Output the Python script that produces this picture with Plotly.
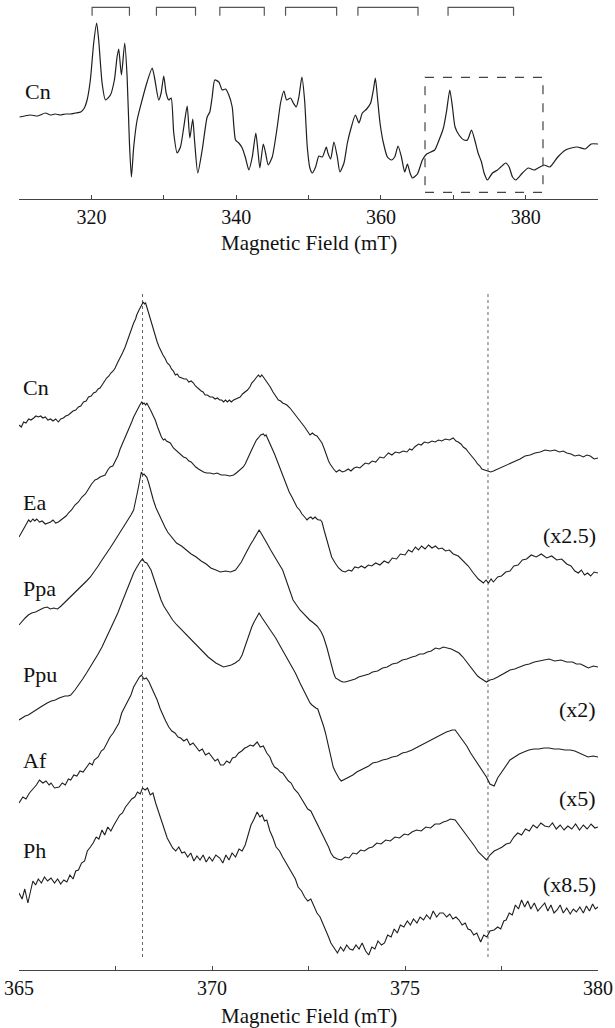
import plotly.graph_objects as go

# ---------------- data ----------------
# Top panel: full Cn spectrum, field (mT) vs. derivative intensity (a.u.)
TOP_CN = [
    (310.08, 0), (311.56, 2), (312.6, 1), (313.64, 4), (314.33, 2), (315.02, 3), (315.7, 2),
    (316.4, 3), (317.1, 3), (317.79, 4), (318.53, 5), (319.03, 9), (319.41, 17), (319.86, 37),
    (320.32, 74), (320.73, 94), (321.01, 77), (321.48, 34), (321.94, 17), (322.63, 22),
    (323.18, 37), (323.55, 60), (323.78, 68), (324.15, 42), (324.61, 74), (324.94, 40),
    (325.26, -26), (325.53, -60), (325.85, -30), (326.32, -3), (327.01, 17), (327.7, 35),
    (328.4, 49), (328.71, 40), (329.31, 17), (329.64, 24), (330.0, 41), (330.33, 24),
    (330.69, 17), (331.02, 19), (331.38, -16), (331.85, -36), (332.31, -30), (332.77, -10),
    (333.24, 11), (333.6, -21), (334.01, -2), (334.25, -23), (334.7, -56), (335.31, -33),
    (336.0, 0), (336.36, 5), (336.69, 20), (337.05, 37), (337.61, 35), (338.08, 27),
    (338.53, 28), (338.99, 22), (339.46, 10), (339.92, -23), (340.37, -26), (340.84, -31),
    (341.3, -41), (341.76, -53), (342.23, -40), (342.72, -16), (343.0, -33), (343.28, -51),
    (343.75, -27), (344.07, -36), (344.44, -48), (344.99, -40), (345.68, -10), (346.14, 14),
    (346.6, 26), (346.97, 17), (347.52, 19), (347.9, 14), (348.31, 10), (348.67, 20),
    (349.09, 40), (349.46, 17), (349.83, -30), (350.19, -51), (350.53, -56), (350.98, -50),
    (351.44, -39), (351.91, -40), (352.46, -30), (352.68, -36), (353.06, -42), (353.51, -25),
    (353.98, -40), (354.34, -55), (354.9, -46), (355.37, -26), (355.92, -10), (356.47, 2),
    (356.97, -6), (357.44, 4), (358.04, 8), (358.59, 14), (358.96, 27), (359.24, 39),
    (359.52, 20), (359.88, -6), (360.35, -26), (360.9, -40), (361.45, -43), (361.91, -40),
    (362.37, -29), (362.84, -40), (363.29, -55), (363.67, -47), (364.03, -56), (364.36, -61),
    (365.05, -57), (365.74, -43), (366.33, -37), (366.89, -35), (367.44, -33), (368.04, -23),
    (368.64, -11), (369.1, 7), (369.52, 27), (369.89, 10), (370.25, -10), (370.8, -18),
    (371.49, -23), (371.96, -23), (372.52, -13), (372.97, -23), (373.43, -36), (373.9, -45),
    (374.26, -56), (374.73, -63), (375.42, -56), (376.11, -53), (376.57, -50), (377.26, -46),
    (377.72, -50), (378.19, -60), (378.65, -63), (379.56, -56), (380.37, -51), (381.18, -53),
    (382.53, -48), (383.35, -50), (384.44, -40), (385.52, -33), (386.3, -31), (387.15, -30),
    (388.23, -32), (389.05, -27), (390.0, -27),
]

# Hyperfine brackets above the top spectrum (start, end field in mT)
BRACKETS = [(320.10, 325.26), (328.99, 334.39), (337.75, 343.89),
            (346.83, 353.89), (356.83, 365.13), (369.28, 378.33)]
# Region expanded in the lower panel (mT)
BOX_FIELD = (366.1, 382.4)
# Reference field positions marked by dotted lines (mT)
MARK_FIELDS = [368.2, 377.15]

# Lower panel: expanded spectra, field (mT) vs intensity (a.u., relative to start)
CN = [
    (365.00, 0), (365.06, -2), (365.12, 3), (365.18, 2), (365.25, 6), (365.31, 5), (365.38, 7),
    (365.44, 9), (365.50, 8), (365.56, 9), (365.62, 7), (365.68, 8), (365.75, 5), (365.82, 6),
    (365.88, 4), (365.95, 6), (366.02, 3), (366.08, 6), (366.15, 7), (366.21, 9), (366.28, 10),
    (366.34, 12), (366.40, 14), (366.47, 15), (366.54, 18), (366.60, 19), (366.67, 23),
    (366.74, 24), (366.80, 28), (366.87, 29), (366.93, 32), (366.99, 33), (367.05, 36),
    (367.10, 37), (367.15, 40), (367.21, 44), (367.27, 47), (367.33, 49), (367.38, 52),
    (367.44, 54), (367.49, 57), (367.55, 62), (367.62, 67), (367.68, 72), (367.75, 78),
    (367.80, 84), (367.86, 90), (367.92, 96), (367.97, 102), (368.02, 106), (368.05, 110),
    (368.11, 115), (368.17, 120), (368.22, 123), (368.25, 121), (368.28, 122), (368.35, 113),
    (368.40, 106), (368.44, 100), (368.49, 93), (368.53, 88), (368.58, 83), (368.63, 78),
    (368.68, 73), (368.73, 70), (368.78, 67), (368.84, 62), (368.90, 60), (368.95, 56),
    (369.00, 54), (369.05, 50), (369.10, 51), (369.15, 48), (369.22, 47), (369.28, 46),
    (369.34, 46), (369.40, 43), (369.46, 44), (369.52, 42), (369.57, 39), (369.62, 37),
    (369.67, 36), (369.72, 34), (369.77, 33), (369.82, 30), (369.88, 30), (369.95, 28),
    (370.02, 28), (370.08, 26), (370.14, 27), (370.20, 25), (370.25, 25), (370.30, 23),
    (370.35, 25), (370.40, 23), (370.45, 25), (370.50, 23), (370.56, 25), (370.62, 26),
    (370.68, 27), (370.73, 28), (370.79, 31), (370.85, 33), (370.92, 35), (370.98, 38),
    (371.03, 42), (371.08, 44), (371.14, 47), (371.20, 50), (371.25, 48), (371.29, 50),
    (371.33, 48), (371.39, 45), (371.45, 42), (371.51, 38), (371.58, 33), (371.65, 29),
    (371.72, 25), (371.78, 24), (371.83, 22), (371.89, 21), (371.94, 20), (372.02, 17),
    (372.10, 13), (372.19, 9), (372.28, 5), (372.34, 2), (372.40, -2), (372.47, -6),
    (372.54, -10), (372.60, -8), (372.66, -10), (372.72, -11), (372.78, -14), (372.85, -18),
    (372.91, -24), (372.97, -32), (373.02, -36), (373.06, -39), (373.11, -42), (373.15, -44),
    (373.22, -47), (373.30, -45), (373.38, -47), (373.45, -46), (373.53, -44), (373.60, -46),
    (373.68, -43), (373.75, -42), (373.83, -43), (373.90, -40), (373.97, -38), (374.06, -39),
    (374.15, -36), (374.24, -37), (374.35, -32), (374.45, -33), (374.57, -28), (374.66, -30),
    (374.75, -27), (374.85, -28), (374.95, -26), (375.05, -27), (375.12, -24), (375.18, -25),
    (375.25, -22), (375.35, -19), (375.42, -20), (375.50, -17), (375.60, -18), (375.70, -16),
    (375.78, -17), (375.87, -15), (375.95, -16), (376.05, -14), (376.15, -15), (376.25, -13),
    (376.32, -16), (376.38, -17), (376.45, -19), (376.51, -22), (376.58, -24), (376.64, -27),
    (376.71, -30), (376.77, -33), (376.83, -36), (376.88, -39), (376.94, -41), (376.99, -44),
    (377.07, -45), (377.15, -46), (377.22, -47), (377.29, -46), (377.40, -44), (377.50, -43),
    (377.61, -41), (377.72, -39), (377.85, -36), (377.98, -34), (378.11, -31), (378.24, -30),
    (378.37, -28), (378.50, -27), (378.63, -25), (378.76, -26), (378.88, -25), (379.00, -27),
    (379.10, -26), (379.19, -28), (379.30, -29), (379.40, -31), (379.51, -30), (379.62, -32),
    (379.71, -30), (379.80, -31), (379.90, -34), (380.00, -33),
]
EA = [
    (365.00, 0), (365.06, 4), (365.12, 8), (365.18, 13), (365.25, 17), (365.30, 15),
    (365.36, 18), (365.41, 16), (365.46, 18), (365.53, 15), (365.60, 16), (365.68, 13),
    (365.76, 14), (365.82, 15), (365.88, 17), (365.95, 14), (366.02, 15), (366.08, 17),
    (366.15, 19), (366.22, 21), (366.28, 24), (366.36, 27), (366.45, 32), (366.54, 35),
    (366.63, 40), (366.72, 43), (366.80, 48), (366.88, 53), (366.97, 57), (367.03, 58),
    (367.10, 60), (367.16, 61), (367.23, 62), (367.30, 67), (367.36, 70), (367.43, 71),
    (367.49, 75), (367.56, 81), (367.62, 88), (367.69, 94), (367.75, 100), (367.81, 105),
    (367.86, 110), (367.92, 115), (367.97, 120), (368.03, 125), (368.08, 129), (368.13, 132),
    (368.18, 135), (368.21, 133), (368.24, 134), (368.28, 132), (368.31, 134), (368.37, 130),
    (368.42, 126), (368.48, 121), (368.53, 117), (368.59, 110), (368.64, 104), (368.69, 100),
    (368.74, 97), (368.78, 98), (368.82, 96), (368.87, 95), (368.92, 94), (369.00, 89),
    (369.08, 86), (369.17, 83), (369.26, 80), (369.33, 79), (369.40, 76), (369.46, 75),
    (369.52, 72), (369.58, 70), (369.65, 68), (369.72, 66), (369.78, 65), (369.86, 64),
    (369.95, 64), (370.04, 63), (370.13, 64), (370.24, 62), (370.35, 62), (370.46, 61),
    (370.56, 62), (370.63, 64), (370.70, 66), (370.76, 68), (370.81, 70), (370.86, 73),
    (370.90, 76), (370.95, 80), (370.99, 84), (371.05, 89), (371.10, 93), (371.15, 97),
    (371.20, 99), (371.26, 102), (371.33, 103), (371.37, 101), (371.40, 102), (371.46, 97),
    (371.52, 93), (371.57, 88), (371.62, 83), (371.68, 77), (371.75, 70), (371.81, 63),
    (371.88, 56), (371.94, 50), (372.00, 45), (372.07, 40), (372.13, 35), (372.20, 30),
    (372.27, 27), (372.33, 23), (372.40, 20), (372.46, 17), (372.51, 19), (372.56, 20),
    (372.61, 18), (372.67, 20), (372.72, 18), (372.76, 17), (372.81, 17), (372.85, 15),
    (372.91, 6), (372.97, -3), (373.04, -12), (373.10, -20), (373.19, -26), (373.28, -31),
    (373.37, -34), (373.45, -35), (373.54, -33), (373.62, -34), (373.70, -30), (373.79, -31),
    (373.87, -29), (373.96, -31), (374.05, -28), (374.14, -29), (374.24, -26), (374.35, -28),
    (374.46, -24), (374.57, -26), (374.67, -21), (374.78, -22), (374.88, -17), (375.00, -18),
    (375.09, -13), (375.18, -15), (375.27, -10), (375.35, -13), (375.43, -9), (375.52, -12),
    (375.61, -8), (375.70, -11), (375.79, -9), (375.87, -12), (375.96, -11), (376.05, -14),
    (376.15, -13), (376.25, -17), (376.38, -19), (376.51, -24), (376.64, -29), (376.77, -36),
    (376.90, -42), (377.03, -46), (377.10, -43), (377.16, -46), (377.23, -42), (377.29, -45),
    (377.40, -40), (377.50, -39), (377.61, -35), (377.72, -34), (377.82, -29), (377.93, -28),
    (378.04, -23), (378.15, -22), (378.27, -18), (378.40, -20), (378.53, -17), (378.67, -21),
    (378.80, -19), (378.93, -23), (379.06, -22), (379.19, -27), (379.30, -29), (379.40, -34),
    (379.49, -36), (379.57, -33), (379.65, -38), (379.73, -36), (379.81, -39), (379.90, -35),
    (380.00, -36),
]
PPA = [
    (365.00, -3), (365.08, 1), (365.16, 4), (365.24, 7), (365.33, 9), (365.43, 10),
    (365.53, 12), (365.63, 14), (365.73, 15), (365.81, 13), (365.90, 14), (366.00, 13),
    (366.09, 16), (366.17, 19), (366.26, 22), (366.35, 25), (366.44, 29), (366.54, 33),
    (366.65, 37), (366.75, 41), (366.85, 45), (366.95, 50), (367.05, 56), (367.15, 62),
    (367.26, 69), (367.36, 74), (367.46, 80), (367.56, 86), (367.66, 92), (367.74, 97),
    (367.82, 102), (367.90, 107), (367.97, 112), (368.03, 122), (368.08, 132), (368.13, 142),
    (368.17, 150), (368.21, 147), (368.24, 148), (368.28, 146), (368.31, 145), (368.36, 139),
    (368.40, 133), (368.44, 127), (368.48, 122), (368.55, 114), (368.63, 107), (368.70, 101),
    (368.78, 95), (368.85, 90), (368.93, 86), (369.00, 83), (369.08, 79), (369.21, 76),
    (369.34, 72), (369.46, 68), (369.59, 65), (369.72, 61), (369.85, 58), (369.97, 54),
    (370.10, 52), (370.22, 50), (370.35, 51), (370.48, 50), (370.61, 52), (370.69, 56),
    (370.76, 60), (370.84, 66), (370.91, 72), (370.99, 77), (371.07, 82), (371.15, 87),
    (371.22, 92), (371.27, 89), (371.32, 86), (371.37, 82), (371.42, 79), (371.52, 72),
    (371.62, 66), (371.72, 59), (371.83, 52), (371.96, 38), (372.10, 22), (372.28, 12),
    (372.46, 4), (372.53, 2), (372.60, 0), (372.66, -2), (372.72, -4), (372.78, -7),
    (372.83, -10), (372.89, -15), (372.94, -20), (372.98, -26), (373.02, -32), (373.06, -38),
    (373.10, -45), (373.15, -51), (373.20, -56), (373.27, -58), (373.33, -59), (373.39, -60),
    (373.45, -60), (373.54, -59), (373.62, -58), (373.71, -57), (373.80, -55), (373.89, -54),
    (373.98, -53), (374.07, -52), (374.16, -50), (374.29, -49), (374.42, -46), (374.54, -45),
    (374.67, -42), (374.80, -41), (374.93, -38), (375.05, -37), (375.18, -35), (375.28, -34),
    (375.38, -32), (375.48, -32), (375.58, -30), (375.68, -29), (375.79, -26), (375.89, -27),
    (375.99, -25), (376.10, -26), (376.20, -27), (376.30, -29), (376.40, -31), (376.50, -35),
    (376.60, -40), (376.70, -45), (376.80, -51), (376.88, -54), (376.95, -56), (377.03, -58),
    (377.11, -60), (377.20, -58), (377.30, -57), (377.40, -55), (377.50, -53), (377.61, -50),
    (377.72, -48), (377.84, -47), (377.97, -45), (378.10, -43), (378.22, -42), (378.35, -40),
    (378.48, -39), (378.60, -38), (378.73, -37), (378.88, -39), (379.04, -38), (379.19, -40),
    (379.34, -40), (379.44, -42), (379.55, -42), (379.65, -44), (379.75, -46), (379.88, -44),
    (380.00, -45),
]
PPU = [
    (365.00, 0), (365.08, 2), (365.16, 4), (365.24, 5), (365.33, 7), (365.40, 9),
    (365.48, 11), (365.56, 13), (365.63, 15), (365.73, 17), (365.84, 19), (365.94, 20),
    (366.04, 22), (366.11, 23), (366.19, 24), (366.27, 24), (366.34, 25), (366.45, 30),
    (366.55, 35), (366.65, 41), (366.75, 47), (366.85, 53), (366.95, 60), (367.05, 66),
    (367.15, 73), (367.25, 81), (367.36, 90), (367.46, 98), (367.56, 107), (367.66, 117),
    (367.76, 127), (367.86, 137), (367.97, 147), (368.04, 152), (368.10, 156), (368.15, 159),
    (368.20, 161), (368.25, 158), (368.31, 157), (368.36, 154), (368.42, 150), (368.48, 143),
    (368.55, 135), (368.61, 127), (368.68, 120), (368.75, 114), (368.83, 109), (368.90, 104),
    (368.98, 100), (369.09, 95), (369.19, 91), (369.29, 87), (369.39, 83), (369.52, 78),
    (369.65, 73), (369.78, 68), (369.90, 63), (370.00, 60), (370.10, 57), (370.20, 55),
    (370.30, 53), (370.40, 54), (370.50, 55), (370.60, 57), (370.71, 60), (370.78, 65),
    (370.84, 72), (370.90, 80), (370.96, 87), (371.03, 93), (371.09, 98), (371.16, 103),
    (371.22, 107), (371.30, 102), (371.37, 98), (371.45, 94), (371.52, 90), (371.65, 82),
    (371.78, 73), (371.90, 65), (372.03, 57), (372.16, 47), (372.28, 37), (372.41, 27),
    (372.54, 17), (372.59, 15), (372.64, 13), (372.69, 12), (372.74, 11), (372.79, 6),
    (372.84, 0), (372.89, -6), (372.94, -13), (372.99, -21), (373.04, -30), (373.09, -39),
    (373.14, -47), (373.20, -52), (373.25, -56), (373.30, -59), (373.35, -61), (373.45, -59),
    (373.55, -57), (373.65, -55), (373.75, -52), (373.85, -50), (373.95, -48), (374.06, -46),
    (374.16, -43), (374.29, -42), (374.42, -40), (374.54, -39), (374.67, -37), (374.80, -36),
    (374.93, -33), (375.05, -32), (375.18, -30), (375.28, -28), (375.38, -26), (375.48, -24),
    (375.58, -22), (375.68, -20), (375.79, -17), (375.89, -15), (375.99, -13), (376.07, -12),
    (376.15, -11), (376.22, -10), (376.30, -10), (376.40, -15), (376.50, -20), (376.60, -26),
    (376.70, -33), (376.80, -39), (376.90, -45), (377.00, -51), (377.11, -57), (377.20, -64),
    (377.26, -65), (377.31, -66), (377.40, -58), (377.50, -52), (377.61, -46), (377.72, -40),
    (377.84, -37), (377.96, -34), (378.08, -32), (378.21, -30), (378.34, -29), (378.47, -29),
    (378.60, -28), (378.73, -28), (378.86, -29), (379.00, -29), (379.14, -30), (379.28, -30),
    (379.40, -31), (379.51, -33), (379.62, -35), (379.74, -37), (379.87, -36), (380.00, -37),
]
AF = [
    (365.00, 0), (365.10, 6), (365.18, 4), (365.27, 10), (365.36, 14), (365.45, 18),
    (365.53, 23), (365.62, 20), (365.70, 22), (365.78, 18), (365.83, 20), (365.92, 15),
    (366.04, 16), (366.12, 20), (366.20, 18), (366.28, 24), (366.34, 23), (366.42, 28),
    (366.50, 27), (366.58, 32), (366.66, 31), (366.75, 36), (366.83, 40), (366.90, 38),
    (366.95, 43), (367.05, 46), (367.13, 52), (367.20, 54), (367.28, 60), (367.36, 66),
    (367.44, 70), (367.52, 76), (367.59, 80), (367.66, 90), (367.74, 96), (367.82, 102),
    (367.90, 108), (367.97, 116), (368.05, 122), (368.12, 126), (368.17, 128), (368.24, 124),
    (368.30, 125), (368.37, 121), (368.45, 114), (368.52, 108), (368.58, 103), (368.66, 94),
    (368.74, 86), (368.80, 82), (368.88, 76), (368.96, 72), (369.04, 70), (369.12, 66),
    (369.19, 65), (369.27, 62), (369.35, 64), (369.43, 58), (369.51, 60), (369.59, 56),
    (369.67, 52), (369.75, 54), (369.83, 48), (369.92, 50), (370.00, 46), (370.08, 42),
    (370.15, 44), (370.22, 38), (370.30, 38), (370.38, 42), (370.46, 40), (370.53, 45),
    (370.61, 46), (370.69, 50), (370.77, 52), (370.85, 55), (370.91, 56), (370.99, 58),
    (371.07, 57), (371.17, 61), (371.25, 56), (371.33, 57), (371.42, 50), (371.50, 46),
    (371.56, 40), (371.62, 36), (371.70, 34), (371.77, 31), (371.83, 30), (371.90, 26),
    (371.98, 22), (372.05, 20), (372.13, 14), (372.23, 10), (372.32, 4), (372.40, 0),
    (372.48, -6), (372.56, -8), (372.64, -14), (372.72, -20), (372.80, -26), (372.88, -32),
    (372.94, -37), (373.02, -44), (373.08, -50), (373.15, -54), (373.25, -56), (373.35, -57),
    (373.45, -54), (373.55, -55), (373.65, -50), (373.75, -51), (373.85, -47), (373.95, -48),
    (374.06, -45), (374.16, -44), (374.27, -40), (374.38, -41), (374.50, -37), (374.62, -38),
    (374.74, -34), (374.86, -35), (374.98, -31), (375.08, -32), (375.18, -29), (375.30, -27),
    (375.42, -28), (375.54, -24), (375.66, -25), (375.78, -21), (375.90, -21), (375.99, -19),
    (376.08, -18), (376.18, -16), (376.30, -17), (376.40, -22), (376.50, -27), (376.60, -32),
    (376.70, -37), (376.80, -43), (376.90, -49), (377.00, -53), (377.11, -57), (377.20, -52),
    (377.31, -48), (377.42, -46), (377.52, -44), (377.62, -41), (377.72, -40), (377.82, -34),
    (377.92, -30), (378.02, -32), (378.12, -26), (378.22, -28), (378.32, -22), (378.42, -25),
    (378.52, -20), (378.62, -23), (378.73, -24), (378.82, -20), (378.92, -26), (379.02, -22),
    (379.12, -27), (379.22, -23), (379.32, -26), (379.42, -21), (379.52, -27), (379.62, -22),
    (379.72, -26), (379.82, -21), (379.92, -25), (380.00, -24),
]
PH = [
    (365.00, 0), (365.08, -6), (365.15, 4), (365.23, -10), (365.30, 2), (365.36, 12),
    (365.43, 8), (365.50, 14), (365.58, 10), (365.66, 16), (365.74, 12), (365.83, 15),
    (365.92, 10), (366.00, 14), (366.08, 9), (366.16, 13), (366.24, 11), (366.32, 18),
    (366.40, 14), (366.47, 22), (366.54, 23), (366.62, 30), (366.70, 32), (366.77, 42),
    (366.85, 46), (366.92, 50), (367.00, 56), (367.07, 54), (367.15, 63), (367.22, 58),
    (367.30, 66), (367.38, 62), (367.46, 68), (367.54, 74), (367.61, 78), (367.68, 80),
    (367.76, 86), (367.84, 90), (367.92, 94), (368.00, 96), (368.07, 101), (368.14, 99),
    (368.20, 105), (368.27, 103), (368.33, 105), (368.40, 98), (368.47, 100), (368.54, 90),
    (368.61, 82), (368.68, 73), (368.76, 64), (368.84, 55), (368.91, 50), (368.98, 45),
    (369.06, 42), (369.14, 46), (369.22, 40), (369.29, 41), (369.37, 36), (369.45, 40),
    (369.53, 32), (369.61, 37), (369.69, 33), (369.77, 38), (369.85, 31), (369.93, 36),
    (370.01, 32), (370.10, 38), (370.20, 35), (370.28, 30), (370.36, 38), (370.44, 33),
    (370.52, 40), (370.61, 36), (370.70, 44), (370.78, 42), (370.86, 48), (370.94, 58),
    (371.01, 68), (371.09, 74), (371.17, 81), (371.24, 76), (371.30, 78), (371.36, 72),
    (371.42, 73), (371.50, 62), (371.58, 55), (371.66, 46), (371.75, 42), (371.83, 36),
    (371.92, 30), (372.00, 26), (372.08, 20), (372.16, 14), (372.23, 6), (372.32, 2),
    (372.40, -4), (372.48, -8), (372.56, -6), (372.64, -14), (372.72, -20), (372.80, -24),
    (372.87, -30), (372.94, -37), (373.02, -44), (373.08, -50), (373.15, -54), (373.25, -60),
    (373.33, -54), (373.41, -58), (373.49, -52), (373.57, -56), (373.65, -57), (373.73, -52),
    (373.81, -56), (373.89, -50), (373.98, -58), (374.06, -62), (374.14, -54), (374.22, -56),
    (374.30, -48), (374.39, -52), (374.47, -50), (374.55, -42), (374.64, -44), (374.72, -36),
    (374.80, -40), (374.88, -32), (374.97, -34), (375.06, -28), (375.14, -32), (375.22, -26),
    (375.31, -30), (375.39, -24), (375.48, -27), (375.56, -22), (375.65, -26), (375.73, -18),
    (375.82, -24), (375.90, -20), (375.99, -20), (376.08, -24), (376.16, -21), (376.24, -26),
    (376.32, -24), (376.40, -27), (376.48, -32), (376.56, -30), (376.63, -36), (376.70, -37),
    (376.78, -42), (376.86, -40), (376.96, -49), (377.04, -42), (377.12, -44), (377.20, -38),
    (377.31, -37), (377.40, -34), (377.48, -36), (377.56, -28), (377.62, -27), (377.70, -20),
    (377.78, -22), (377.86, -12), (377.94, -16), (378.02, -7), (378.10, -14), (378.18, -8),
    (378.26, -16), (378.35, -10), (378.44, -18), (378.53, -14), (378.62, -10), (378.70, -18),
    (378.78, -12), (378.86, -20), (378.94, -17), (379.02, -12), (379.10, -20), (379.19, -15),
    (379.28, -21), (379.36, -16), (379.44, -19), (379.53, -14), (379.62, -20), (379.70, -13),
    (379.78, -18), (379.86, -11), (379.93, -16), (380.00, -14),
]

SAMPLES = ["Cn", "Ea", "Ppa", "Ppu", "Af", "Ph"]
SPECTRA = {"Cn": CN, "Ea": EA, "Ppa": PPA, "Ppu": PPU, "Af": AF, "Ph": PH}
GAIN_LABELS = {"Ea": "(x2.5)", "Ppu": "(x2)", "Af": "(x5)", "Ph": "(x8.5)"}

TOP_TICKS = [310, 320, 330, 340, 350, 360, 370, 380, 390]
TOP_TICKTEXT = ["", "320", "", "340", "", "360", "", "380", ""]
BOT_TICKS = [365, 367.5, 370, 372.5, 375, 377.5, 380]
BOT_TICKTEXT = ["365", "", "370", "", "375", "", "380"]

# ---------------- layout / style constants ----------------
W, H = 615, 1028
ML, MR, MT, MB = 19, 17, 0, 58
PLOT_H = H - MT - MB
TOP_AXIS_PX = 199          # pixel row of the top x-axis line
BOT_TOP_PX = 280           # pixel row of top of lower panel
TOP_YRANGE = [-82, 117]
BOT_YRANGE = [0, 690]
STACK_OFFSET = {"Cn": 545, "Ea": 433, "Ppa": 348, "Ppu": 250, "Af": 167, "Ph": 77}
NAME_DY = {"Cn": 38, "Ea": 35, "Ppa": 34, "Ppu": 46, "Af": 43, "Ph": 43}
GAIN_DY = {"Ea": 2, "Ppu": 11, "Af": 5, "Ph": 9}
FONT = "Liberation Serif, Times New Roman, serif"
LINE_C = "#1e1e1e"
AXIS_C = "#444444"


def py_to_paper(py):
    return (H - MB - py) / PLOT_H


fig = go.Figure()

# top spectrum
fig.add_trace(go.Scatter(
    x=[p[0] for p in TOP_CN], y=[p[1] for p in TOP_CN], mode="lines",
    line=dict(color=LINE_C, width=1.2, shape="spline", smoothing=0.6),
    xaxis="x", yaxis="y", hoverinfo="skip"))

# brackets
for a, b in BRACKETS:
    fig.add_trace(go.Scatter(
        x=[a, a, b, b], y=[101.3, 109.7, 109.7, 101.3], mode="lines",
        line=dict(color="#555555", width=1.2), xaxis="x", yaxis="y", hoverinfo="skip"))

# lower spectra
for name in SAMPLES:
    d = SPECTRA[name]
    off = STACK_OFFSET[name]
    fig.add_trace(go.Scatter(
        x=[p[0] for p in d], y=[p[1] + off for p in d], mode="lines",
        line=dict(color=LINE_C, width=1.1), xaxis="x2", yaxis="y2", hoverinfo="skip"))

shapes = [dict(type="rect", xref="x", yref="y", x0=BOX_FIELD[0], x1=BOX_FIELD[1],
               y0=-75.3, y1=39.7, line=dict(color="#444444", width=1.2, dash="dash"))]
for f in MARK_FIELDS:
    shapes.append(dict(type="line", xref="x2", yref="y2", x0=f, x1=f, y0=13, y1=678,
                       line=dict(color="#666666", width=1, dash="dot"), layer="below"))

annotations = [
    dict(text="Cn", xref="x", yref="y", x=310.5, y=117 - 91.7, xanchor="left",
         yanchor="middle", showarrow=False, font=dict(family=FONT, size=22, color="#111")),
    dict(text="Magnetic Field (mT)", xref="paper", yref="paper", x=0.5,
         y=py_to_paper(243), xanchor="center", yanchor="middle", showarrow=False,
         font=dict(family=FONT, size=21, color="#111")),
    dict(text="Magnetic Field (mT)", xref="paper", yref="paper", x=0.5,
         y=py_to_paper(1016), xanchor="center", yanchor="middle", showarrow=False,
         font=dict(family=FONT, size=21, color="#111")),
]
for name in SAMPLES:
    annotations.append(dict(
        text=name, xref="x2", yref="y2", x=365.05, y=STACK_OFFSET[name] + NAME_DY[name],
        xanchor="left", yanchor="middle", showarrow=False,
        font=dict(family=FONT, size=22, color="#111")))
for name, txt in GAIN_LABELS.items():
    annotations.append(dict(
        text=txt, xref="x2", yref="y2", x=380.0, y=STACK_OFFSET[name] + GAIN_DY[name],
        xanchor="right", yanchor="middle", showarrow=False,
        font=dict(family=FONT, size=22, color="#111")))

axis_common = dict(showline=True, linecolor=AXIS_C, linewidth=1.2, ticks="inside",
                   ticklen=4, tickwidth=1.2, tickcolor=AXIS_C, showgrid=False,
                   zeroline=False, tickfont=dict(family=FONT, size=20, color="#111"))

fig.update_layout(
    width=W, height=H, margin=dict(l=ML, r=MR, t=MT, b=MB),
    paper_bgcolor="white", plot_bgcolor="white", showlegend=False,
    xaxis=dict(domain=[0, 1], range=[310, 390], anchor="y", tickmode="array",
               tickvals=TOP_TICKS, ticktext=TOP_TICKTEXT, **axis_common),
    yaxis=dict(domain=[py_to_paper(TOP_AXIS_PX), 1], range=TOP_YRANGE, visible=False),
    xaxis2=dict(domain=[0, 1], range=[365, 380], anchor="y2", tickmode="array",
                tickvals=BOT_TICKS, ticktext=BOT_TICKTEXT, **axis_common),
    yaxis2=dict(domain=[0, py_to_paper(BOT_TOP_PX)], range=BOT_YRANGE, visible=False),
    shapes=shapes, annotations=annotations,
)

fig.write_html("out.html", config={"displayModeBar": False},
               post_script="document.body.style.margin='0px';")
